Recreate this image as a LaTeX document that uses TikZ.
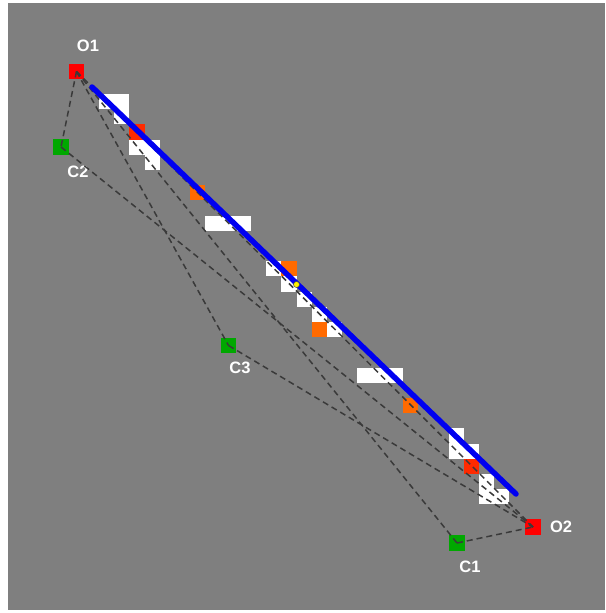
\documentclass[tikz,border=0pt]{standalone}
\usepackage{fontspec}
\setmainfont{Liberation Sans}
\definecolor{bggray}{HTML}{7F7F7F}
\definecolor{cellred}{HTML}{FF2A00}
\definecolor{cellorange}{HTML}{FF6A00}
\definecolor{nodered}{HTML}{FF0000}
\definecolor{nodegreen}{HTML}{00A800}
\definecolor{dashgray}{HTML}{3A3A3A}
\definecolor{pathblue}{HTML}{0000F0}
\begin{document}
\begin{tikzpicture}[x=1pt,y=-1pt,
  sq/.style={rectangle,minimum size=15.5pt,inner sep=0pt,draw=none},
  onode/.style={sq,fill=nodered},
  cnode/.style={sq,fill=nodegreen},
  lbl/.style={text=white,font=\bfseries\fontsize{16.5}{16.5}\selectfont,inner sep=0pt},
  conn/.style={draw=dashgray,line width=1.5pt,dash pattern=on 6pt off 4pt},
  blueline/.style={draw=pathblue,line width=5.5pt,line cap=round},
  ydot/.style={circle,fill=yellow,draw=black!70,line width=0.5pt,minimum size=6pt,inner sep=0pt}]
\useasboundingbox (0,0) rectangle (605,613);
\fill[white] (0,0) rectangle (605,613);
\fill[bggray] (8,3) rectangle (605,609.5);
% grid cells
\def\cs{15.2}
\foreach \c/\r in {0/0,1/0,1/1,2/3,3/3,3/4,7/8,8/8,9/8,11/11,12/12,13/13,14/14,15/15,17/18,18/18,19/18,23/22,23/23,24/23,25/25,25/26,26/26}
  \fill[white] ({99+\cs*\c},{94+\cs*\r}) rectangle ++(\cs,\cs);
\foreach \c/\r in {2/2,24/24}
  \fill[cellred] ({99+\cs*\c},{94+\cs*\r}) rectangle ++(\cs,\cs);
\foreach \c/\r in {6/6,12/11,14/15,20/20}
  \fill[cellorange] ({99+\cs*\c},{94+\cs*\r}) rectangle ++(\cs,\cs);
% nodes
\node[onode] (O1) at (76.5,71.5) {};
\node[onode] (O2) at (533,527) {};
\node[cnode] (C1) at (457,543) {};
\node[cnode] (C2) at (61,147) {};
\node[cnode] (C3) at (228.5,345.5) {};
% labels
\node[lbl] (O1l) at (88,46) {O1};
\node[lbl] (C2l) at (78,172) {C2};
\node[lbl] (C3l) at (240,368) {C3};
\node[lbl] (C1l) at (470,567) {C1};
\node[lbl] (O2l) at (561,527) {O2};
% dashed connectors
\draw[conn] (O1.center) -- (C2.center);
\draw[conn] (O1.center) -- (C3.center);
\draw[conn] (O1.center) -- (C1.center);
\draw[conn] (O1.center) -- (O2.center);
\draw[conn] (C2.center) -- (O2.center);
\draw[conn] (C3.center) -- (O2.center);
\draw[conn] (C1.center) -- (O2.center);
% blue path
\coordinate (B1) at (92,87);
\coordinate (B2) at (516,494);
\draw[blueline] (B1) -- (B2);
\node[ydot] (Y) at (296.5,284.5) {};
\end{tikzpicture}
\end{document}
